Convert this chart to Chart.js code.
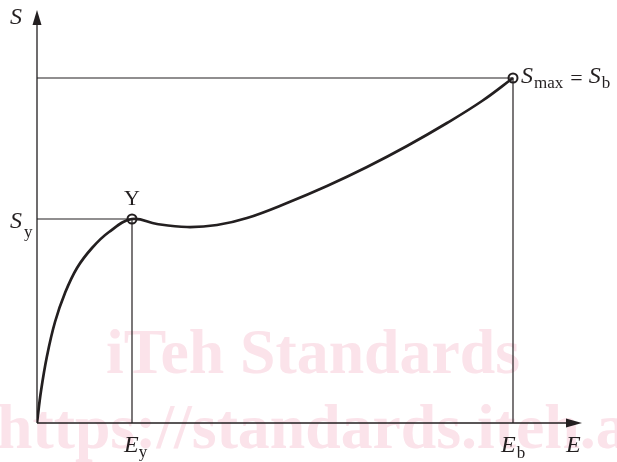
<!DOCTYPE html>
<html>
<head>
<meta charset="utf-8">
<script src="https://cdn.jsdelivr.net/npm/chart.js"></script>
<style>
  html, body { margin: 0; padding: 0; background: #fff; }
  #wrap { width: 617px; height: 462px; }
</style>
</head>
<body>
<div id="wrap"><canvas id="chart" width="617" height="462"></canvas></div>
<script>
// Curva tensión (S) - deformación (E), unidades arbitrarias
const strain = [0, 4, 10, 18, 28, 40, 55, 72, 95, 120, 150, 180, 210, 250, 290, 330, 370, 410, 445, 476];
const stress = [0, 32, 67, 101, 130, 155, 175, 191, 204, 199, 196, 198, 205, 220, 237, 256, 277, 300, 322, 345];

// puntos característicos
const yieldStrain = 95;   // E_y
const yieldStress = 204;  // S_y
const breakStrain = 476;  // E_b
const maxStress = 345;    // S_max = S_b

// límites de los ejes (hasta la punta de la flecha)
const xMax = 545;
const yMax = 413;

const INK = '#231f20';
const SERIF = '"Liberation Serif", "DejaVu Serif", serif';

const curve = strain.map((x, i) => ({ x: x, y: stress[i] }));
const yieldLines = [
  { x: 0, y: yieldStress },
  { x: yieldStrain, y: yieldStress },
  { x: yieldStrain, y: 0 }
];
const maxLines = [
  { x: 0, y: maxStress },
  { x: breakStrain, y: maxStress },
  { x: breakStrain, y: 0 }
];
const markers = [
  { x: yieldStrain, y: yieldStress },
  { x: breakStrain, y: maxStress }
];

// texto con subíndice
function subText(ctx, x, y, main, sub, mainFont, subFont, dx, dy) {
  ctx.font = mainFont;
  ctx.fillText(main, x, y);
  const w = ctx.measureText(main).width;
  ctx.font = subFont;
  ctx.fillText(sub, x + w + dx, y + dy);
  return x + w + dx + ctx.measureText(sub).width;
}

// marca de agua de fondo
const watermark = {
  id: 'watermark',
  beforeDatasetsDraw(chart) {
    const ctx = chart.ctx;
    ctx.save();
    ctx.fillStyle = '#fbe3ea';
    ctx.textBaseline = 'alphabetic';
    ctx.font = 'bold 60px ' + SERIF;
    const w = ctx.measureText('iTeh Standards').width;
    const size = 60 * 414 / w;
    ctx.font = 'bold ' + size + 'px ' + SERIF;
    ctx.fillText('iTeh Standards', 106, 373);
    ctx.fillText('https://standards.iteh.ai', -3, 448);
    ctx.restore();
  }
};

// ejes con flechas y rótulos
const axesAndLabels = {
  id: 'axesAndLabels',
  afterDatasetsDraw(chart) {
    const ctx = chart.ctx;
    const sx = chart.scales.x, sy = chart.scales.y;
    const x0 = sx.getPixelForValue(0), y0 = sy.getPixelForValue(0);
    const xEnd = sx.getPixelForValue(xMax), yEnd = sy.getPixelForValue(yMax);
    ctx.save();
    ctx.strokeStyle = INK;
    ctx.fillStyle = INK;
    ctx.lineWidth = 1.3;
    ctx.beginPath();
    ctx.moveTo(x0, y0);
    ctx.lineTo(xEnd - 8, y0);
    ctx.moveTo(x0, y0);
    ctx.lineTo(x0, yEnd + 8);
    ctx.stroke();
    // flechas
    ctx.beginPath();
    ctx.moveTo(xEnd, y0);
    ctx.lineTo(xEnd - 16, y0 - 4.5);
    ctx.lineTo(xEnd - 16, y0 + 4.5);
    ctx.closePath();
    ctx.fill();
    ctx.beginPath();
    ctx.moveTo(x0, yEnd);
    ctx.lineTo(x0 - 4.5, yEnd + 15);
    ctx.lineTo(x0 + 4.5, yEnd + 15);
    ctx.closePath();
    ctx.fill();

    const it = 'italic 24px ' + SERIF;
    const up = '22px ' + SERIF;
    const sb = '17px ' + SERIF;
    ctx.textBaseline = 'alphabetic';
    ctx.textAlign = 'left';

    ctx.font = it;
    ctx.fillText('S', 10, 24);
    ctx.fillText('E', 566, 452);

    subText(ctx, 10, 228, 'S', 'y', it, sb, 2, 9);
    subText(ctx, 124, 452, 'E', 'y', it, sb, 0, 5);
    subText(ctx, 501, 452, 'E', 'b', it, sb, 1, 6);

    ctx.font = up;
    ctx.textAlign = 'center';
    ctx.fillText('Y', sx.getPixelForValue(yieldStrain), 205);
    ctx.textAlign = 'left';

    let px = subText(ctx, 521, 83, 'S', 'max', it, sb, 1, 5);
    ctx.font = up;
    ctx.fillText('=', px + 7, 85);
    px += 7 + ctx.measureText('=').width + 6;
    subText(ctx, px, 83, 'S', 'b', it, sb, 1, 5);
    ctx.restore();
  }
};

new Chart(document.getElementById('chart'), {
  type: 'scatter',
  data: {
    datasets: [
      {
        data: markers,
        pointRadius: 4.5,
        pointBorderWidth: 2,
        pointBorderColor: INK,
        pointBackgroundColor: 'rgba(0,0,0,0)',
        showLine: false,
        order: 0
      },
      {
        data: curve,
        showLine: true,
        borderColor: INK,
        borderWidth: 2.7,
        pointRadius: 0,
        tension: 0.4,
        order: 1
      },
      {
        data: yieldLines,
        showLine: true,
        borderColor: INK,
        borderWidth: 1.2,
        pointRadius: 0,
        tension: 0,
        order: 2
      },
      {
        data: maxLines,
        showLine: true,
        borderColor: INK,
        borderWidth: 1.2,
        pointRadius: 0,
        tension: 0,
        order: 3
      }
    ]
  },
  options: {
    responsive: false,
    animation: false,
    layout: { padding: { left: 37, right: 35, top: 10, bottom: 39 } },
    scales: {
      x: { type: 'linear', min: 0, max: xMax, display: false },
      y: { type: 'linear', min: 0, max: yMax, display: false }
    },
    plugins: {
      legend: { display: false },
      tooltip: { enabled: false }
    }
  },
  plugins: [watermark, axesAndLabels]
});
</script>
</body>
</html>
